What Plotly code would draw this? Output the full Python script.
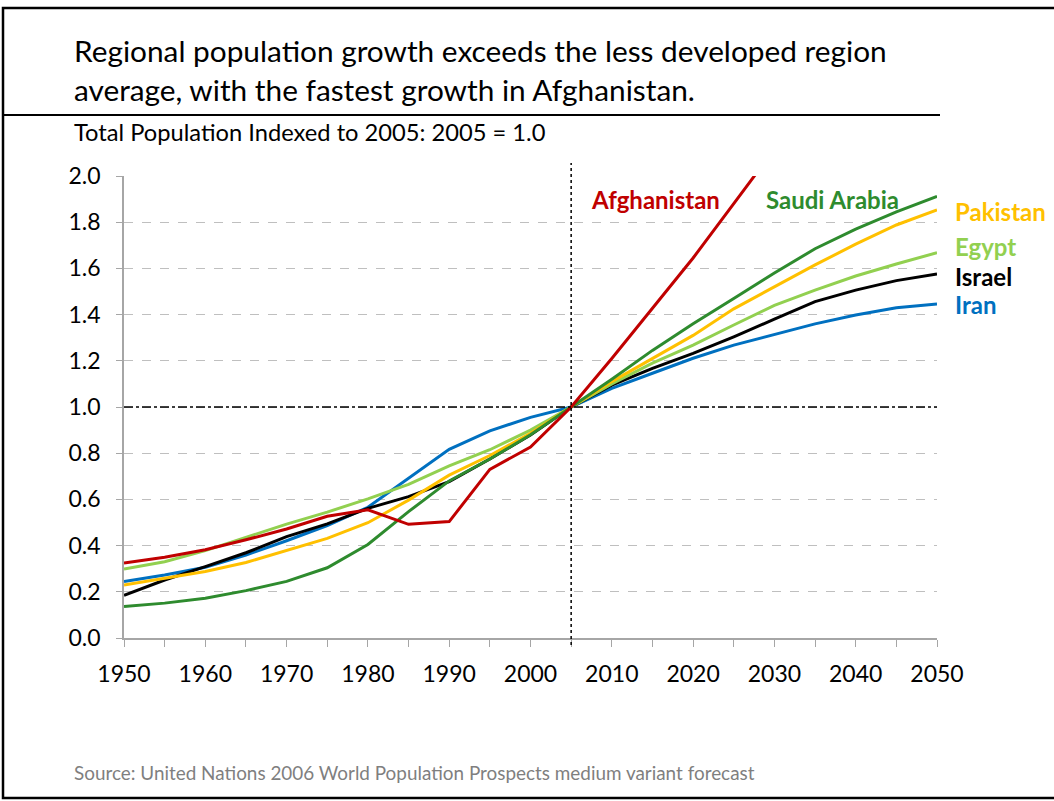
import plotly.graph_objects as go

years = list(range(1950, 2051, 5))

afghanistan = [0.325, 0.350, 0.382, 0.425, 0.472, 0.527, 0.555, 0.492, 0.504, 0.730, 0.827,
               1.0, 1.21, 1.43, 1.645, 1.88, 2.12, 2.36, 2.59, 2.81, 3.02]
saudi_arabia = [0.136, 0.151, 0.172, 0.205, 0.245, 0.304, 0.405, 0.547, 0.680, 0.775, 0.880,
                1.0, 1.12, 1.245, 1.36, 1.47, 1.58, 1.685, 1.77, 1.845, 1.912]
pakistan = [0.229, 0.258, 0.288, 0.327, 0.380, 0.431, 0.499, 0.597, 0.705, 0.790, 0.886,
            1.0, 1.11, 1.21, 1.31, 1.425, 1.52, 1.615, 1.705, 1.788, 1.853]
egypt = [0.299, 0.330, 0.378, 0.434, 0.493, 0.545, 0.602, 0.665, 0.745, 0.815, 0.900,
         1.0, 1.10, 1.19, 1.268, 1.355, 1.44, 1.506, 1.567, 1.619, 1.668]
israel = [0.185, 0.251, 0.309, 0.369, 0.439, 0.494, 0.561, 0.612, 0.677, 0.775, 0.879,
          1.0, 1.095, 1.167, 1.232, 1.304, 1.38, 1.456, 1.506, 1.547, 1.576]
iran = [0.245, 0.273, 0.306, 0.359, 0.421, 0.487, 0.566, 0.691, 0.817, 0.897, 0.955,
        1.0, 1.081, 1.146, 1.211, 1.268, 1.315, 1.36, 1.398, 1.43, 1.446]

series = [
    ("Iran", iran, "#0070C0"),
    ("Israel", israel, "#000000"),
    ("Egypt", egypt, "#92D050"),
    ("Pakistan", pakistan, "#FFC000"),
    ("Saudi Arabia", saudi_arabia, "#2E8B2E"),
    ("Afghanistan", afghanistan, "#C00000"),
]

x_tick_vals = list(range(1950, 2051, 10))
x_tick_text = [str(v) for v in x_tick_vals]
y_tick_vals = [0.0, 0.2, 0.4, 0.6, 0.8, 1.0, 1.2, 1.4, 1.6, 1.8, 2.0]
y_tick_text = ["%.1f" % v for v in y_tick_vals]

title_lines = ["Regional population growth exceeds the less developed region",
               "average, with the fastest growth in Afghanistan."]
subtitle = "Total Population Indexed to 2005: 2005 = 1.0"
source = "Source: United Nations 2006 World Population Prospects medium variant forecast"

FONT = "Lato"

fig = go.Figure()
for name, vals, color in series:
    fig.add_trace(go.Scatter(x=years, y=vals, mode="lines", name=name,
                             line=dict(color=color, width=3), showlegend=False))

# plot area: x 124..937, y 176..638 px
L, R, T, B = 124, 937, 176, 638
W, H = 1054, 801
def px(x):
    return (x - L) / (R - L)
def py(y):
    return (B - y) / (B - T)

shapes = []
shapes.append(dict(type="line", xref="x", yref="y", x0=1950, x1=2050, y0=1.0, y1=1.0,
                   line=dict(color="black", width=1.5, dash="dashdot")))
shapes.append(dict(type="line", xref="x", yref="paper", x0=2005, x1=2005, y0=py(645), y1=py(163),
                   line=dict(color="black", width=1.5, dash="dot")))
shapes.append(dict(type="rect", xref="paper", yref="paper", x0=px(3), x1=px(1058), y0=py(798), y1=py(8),
                   line=dict(color="black", width=2.5), layer="below"))
shapes.append(dict(type="line", xref="paper", yref="paper", x0=px(3), x1=px(940), y0=py(115), y1=py(115),
                   line=dict(color="black", width=2)))

annotations = []
annotations.append(dict(text=title_lines[0], xref="paper", yref="paper", x=px(72), y=py(51),
                        xanchor="left", yanchor="middle", showarrow=False,
                        font=dict(family=FONT, size=29.8, color="black")))
annotations.append(dict(text=title_lines[1], xref="paper", yref="paper", x=px(72), y=py(89),
                        xanchor="left", yanchor="middle", showarrow=False,
                        font=dict(family=FONT, size=29.8, color="black")))
annotations.append(dict(text=subtitle, xref="paper", yref="paper", x=px(72), y=py(132),
                        xanchor="left", yanchor="middle", showarrow=False,
                        font=dict(family=FONT, size=23.7, color="black")))
annotations.append(dict(text=source, xref="paper", yref="paper", x=px(72), y=py(772),
                        xanchor="left", yanchor="middle", showarrow=False,
                        font=dict(family=FONT, size=18.9, color="#7F7F7F")))

labels = [
    ("Afghanistan", "#C00000", 655, 199, "center"),
    ("Saudi Arabia", "#2E8B2E", 832, 199, "center"),
    ("Pakistan", "#FFC000", 953, 211, "left"),
    ("Egypt", "#92D050", 953, 246, "left"),
    ("Israel", "#000000", 953, 276, "left"),
    ("Iran", "#0070C0", 953, 304, "left"),
]
for text, color, x, y, anchor in labels:
    annotations.append(dict(text="<b>%s</b>" % text, xref="paper", yref="paper", x=px(x), y=py(y),
                            xanchor=anchor, yanchor="middle", showarrow=False,
                            font=dict(family=FONT, size=24, color=color)))

fig.update_layout(
    width=W, height=H,
    margin=dict(l=L, r=W - R, t=T, b=H - B, pad=0),
    plot_bgcolor="white", paper_bgcolor="white",
    shapes=shapes, annotations=annotations,
    font=dict(family=FONT, color="black"),
    xaxis=dict(range=[1950, 2050], tickmode="array", tickvals=x_tick_vals, ticktext=x_tick_text,
               showgrid=False, zeroline=False, showline=True, linecolor="#A6A6A6", linewidth=1.5,
               ticks="outside", ticklen=7, tickcolor="#A6A6A6", tickwidth=1,
               minor=dict(ticks="outside", ticklen=7, tickcolor="#A6A6A6", dtick=5, tick0=1950),
               tickfont=dict(family=FONT, size=23, color="black"), ticklabelstandoff=8),
    yaxis=dict(range=[0, 2.0], tickmode="array", tickvals=y_tick_vals, ticktext=y_tick_text,
               showgrid=True, gridcolor="#BFBFBF", griddash="dash", gridwidth=1,
               zeroline=False, showline=True, linecolor="#A6A6A6", linewidth=1.5,
               ticks="outside", ticklen=6, tickcolor="#A6A6A6",
               tickfont=dict(family=FONT, size=23, color="black"), ticklabelstandoff=11),
)

fig.write_html("out.html")
